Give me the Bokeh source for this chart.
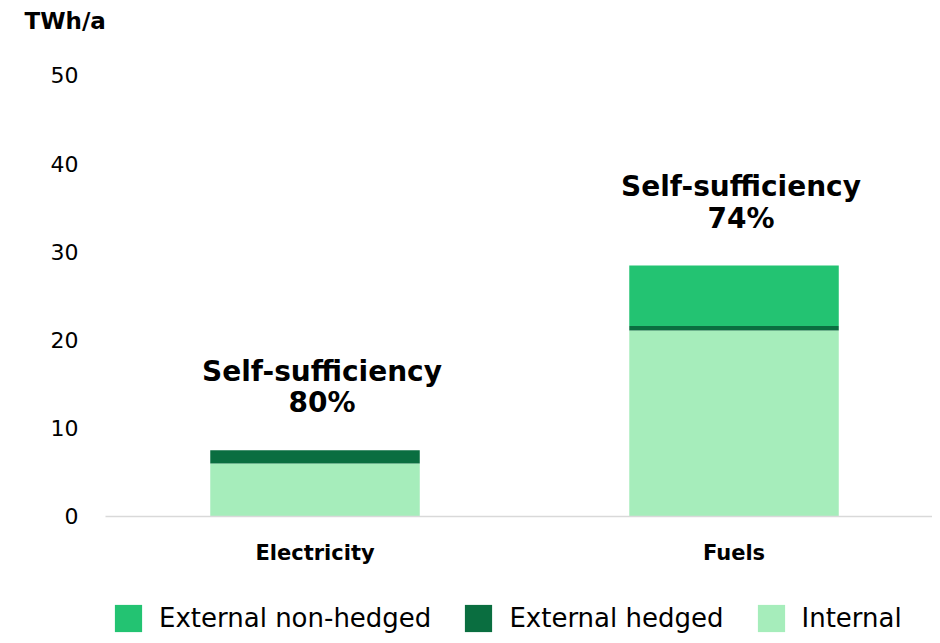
from bokeh.plotting import figure
from bokeh.models import ColumnDataSource, Range1d, FixedTicker, Label, Legend, LegendItem
from bokeh.core.properties import value
from bokeh.embed import file_html
from bokeh.resources import INLINE

categories = ["Electricity", "Fuels"]
internal = [6.0, 21.1]
external_hedged = [1.5, 0.5]
external_non_hedged = [0.0, 6.85]
y_ticks = [0, 10, 20, 30, 40, 50]
unit_label = "TWh/a"
series_names = ["External non-hedged", "External hedged", "Internal"]
colors = {"Internal": "#a6edbb", "External hedged": "#0a6e40", "External non-hedged": "#23c372"}

FONT = "DejaVu Sans"
W, H = 932, 635
xs = [i + 1 for i in range(len(categories))]
totals = [a + b + c for a, b, c in zip(internal, external_hedged, external_non_hedged)]
ann = [f"Self-sufficiency\n{round(100 * i / t)}%" for i, t in zip(internal, totals)]

src = ColumnDataSource(dict(x=xs, internal=internal, hedged=external_hedged,
                            nonhedged=external_non_hedged, total=totals, ann=ann))

# frame covers the whole canvas; axes are placed inside it with fixed_location
x_left, x_right = 0.2494, 2.4737
y_bottom, y_top = -13.492, 58.503
p = figure(width=W, height=H, output_backend="svg", toolbar_location=None,
           x_range=Range1d(x_left, x_right), y_range=Range1d(y_bottom, y_top),
           min_border=0, x_axis_location="below", y_axis_location="left")
p.outline_line_color = None
p.grid.visible = False

rs = p.vbar_stack(["internal", "hedged", "nonhedged"], x="x", width=0.5, source=src,
                  color=[colors["Internal"], colors["External hedged"], colors["External non-hedged"]],
                  line_color=None)

p.text(x="x", y="total", text="ann", source=src, text_font=value(FONT),
       text_font_style="bold", text_font_size="28px", text_align="center",
       text_baseline="bottom", y_offset=-31, x_offset=7, text_line_height=0.96,
       text_color="#000000")

# y axis
p.yaxis.fixed_location = 0.5
p.yaxis.bounds = (0, 50)
p.yaxis.ticker = FixedTicker(ticks=y_ticks)
p.yaxis.axis_line_color = None
p.yaxis.major_tick_line_color = None
p.yaxis.minor_tick_line_color = None
p.yaxis.major_tick_out = 0
p.yaxis.major_tick_in = 0
p.yaxis.major_label_standoff = 27
p.yaxis.major_label_text_font = FONT
p.yaxis.major_label_text_font_size = "22px"
p.yaxis.major_label_text_color = "#000000"

# x axis
p.xaxis.fixed_location = 0
p.xaxis.bounds = (0.5, x_right)
p.xaxis.ticker = FixedTicker(ticks=xs)
p.xaxis.major_label_overrides = {x: c for x, c in zip(xs, categories)}
p.xaxis.axis_line_color = "#d9d9d9"
p.xaxis.axis_line_width = 1.5
p.xaxis.major_tick_line_color = None
p.xaxis.minor_tick_line_color = None
p.xaxis.major_tick_out = 0
p.xaxis.major_tick_in = 0
p.xaxis.major_label_standoff = 25
p.xaxis.major_label_text_font = FONT
p.xaxis.major_label_text_font_style = "bold"
p.xaxis.major_label_text_font_size = "21px"
p.xaxis.major_label_text_color = "#000000"

p.add_layout(Label(x=24, y=H - 20, x_units="screen", y_units="screen", text=unit_label,
                   text_font=FONT, text_font_style="bold", text_font_size="23px",
                   text_baseline="alphabetic", text_color="#000000"))

name_to_r = {"Internal": rs[0], "External hedged": rs[1], "External non-hedged": rs[2]}
legend = Legend(items=[LegendItem(label=n, renderers=[name_to_r[n]]) for n in series_names],
                orientation="horizontal", location=(111, 0), glyph_width=34, glyph_height=34,
                label_standoff=14, spacing=30, padding=0, margin=0,
                label_text_font=FONT, label_text_font_size="26px", label_text_color="#000000",
                border_line_color=None, background_fill_alpha=0)
p.add_layout(legend)

open("out.html", "w").write(file_html(p, INLINE))
